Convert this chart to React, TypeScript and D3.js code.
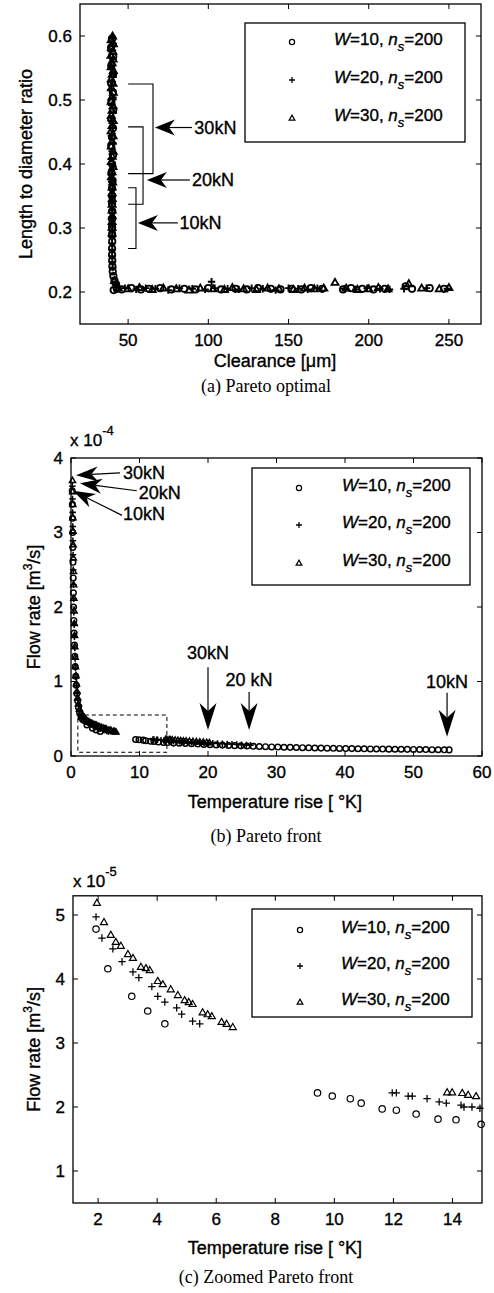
import React from 'react';
import * as d3 from 'd3';

type P = [number, number];

const SANS = "'Liberation Sans', Arial, Helvetica, sans-serif";
const SERIF = "'Liberation Serif', 'Times New Roman', serif";
const TXT_STROKE = 0.35;

// ---------- Panel (a): Pareto optimal (clearance [um], L/D) ----------
const aXTicks = [50, 100, 150, 200, 250];
const aYTicks = [0.2, 0.3, 0.4, 0.5, 0.6];
const aW10: P[] = [
  [40.1, 0.596], [39.4, 0.582], [40.7, 0.568], [39.6, 0.554], [40.6, 0.54], [39.4, 0.526], [40.5, 0.512], [39.6, 0.498],
  [40.7, 0.484], [39.5, 0.47], [40.5, 0.456], [40.0, 0.442], [39.5, 0.428], [40.6, 0.414], [40.0, 0.4], [39.6, 0.386],
  [40.3, 0.374], [40.0, 0.362], [40.0, 0.35], [40.0, 0.338], [40.1, 0.326], [40.0, 0.314], [40.0, 0.302], [40.0, 0.29],
  [40.1, 0.279], [40.0, 0.268], [40.0, 0.258], [40.1, 0.249], [40.2, 0.24], [40.4, 0.232], [40.8, 0.225], [41.5, 0.218],
  [42.5, 0.212], [41, 0.203], [43, 0.205], [46, 0.204], [52, 0.206], [58, 0.204], [63, 0.205], [70, 0.206], [77, 0.204],
  [85, 0.205], [92, 0.204], [100, 0.206], [108, 0.204], [117, 0.205], [124, 0.204], [131, 0.206], [139, 0.205],
  [145, 0.204], [152, 0.205], [158, 0.204], [164, 0.206], [171, 0.205], [184, 0.204], [189, 0.206], [196, 0.205],
  [203, 0.204], [210, 0.205], [223, 0.209], [227, 0.205], [238, 0.206], [247, 0.205],
];
const aW20: P[] = [
  [40.0, 0.598], [40.7, 0.588], [39.4, 0.576], [40.5, 0.564], [39.5, 0.552], [40.8, 0.54], [40.0, 0.528], [39.4, 0.516],
  [40.6, 0.504], [39.6, 0.492], [40.7, 0.48], [39.5, 0.468], [40.5, 0.456], [39.6, 0.444], [40.7, 0.432], [40.0, 0.42],
  [39.5, 0.408], [40.6, 0.396], [40.0, 0.384], [39.7, 0.372], [40.2, 0.361], [40.0, 0.35], [39.9, 0.339], [40.1, 0.328],
  [40.0, 0.317], [40.0, 0.306], [40.1, 0.296], [40.0, 0.286], [40.0, 0.276], [40.1, 0.266], [40.0, 0.256], [40.2, 0.247],
  [40.4, 0.238], [42, 0.212], [48, 0.206], [55, 0.204], [61, 0.206], [67, 0.205], [75, 0.203], [82, 0.206], [90, 0.205],
  [98, 0.204], [102, 0.216], [104, 0.206], [112, 0.205], [119, 0.204], [127, 0.206], [134, 0.205], [142, 0.203],
  [150, 0.206], [156, 0.205], [162, 0.204], [168, 0.206], [185, 0.205], [192, 0.204], [199, 0.206], [207, 0.205],
  [213, 0.204], [222, 0.205], [236, 0.206], [249, 0.205],
];
const aW30: P[] = [
  [40.3, 0.6], [39.4, 0.594], [40.8, 0.588], [39.6, 0.582], [40.5, 0.576], [39.3, 0.57], [40.7, 0.564], [40.0, 0.558],
  [39.4, 0.552], [40.8, 0.546], [40.1, 0.54], [39.5, 0.533], [40.6, 0.526], [39.6, 0.519], [40.8, 0.512], [40.0, 0.505],
  [39.4, 0.498], [40.6, 0.491], [40.0, 0.484], [39.5, 0.476], [40.7, 0.468], [40.0, 0.46], [39.4, 0.452], [40.6, 0.444],
  [40.0, 0.436], [39.5, 0.428], [40.7, 0.42], [40.1, 0.412], [39.5, 0.404], [40.6, 0.396], [40.0, 0.388], [39.6, 0.38],
  [40.4, 0.372], [40.0, 0.364], [40.0, 0.355], [40.1, 0.346], [40.0, 0.337], [40.0, 0.328], [40.1, 0.319], [40.0, 0.31],
  [40.0, 0.301], [40.0, 0.292], [41.5, 0.218], [43, 0.211], [44, 0.206], [50, 0.205], [57, 0.207], [65, 0.204],
  [72, 0.206], [80, 0.205], [88, 0.203], [95, 0.206], [103, 0.205], [110, 0.204], [115, 0.207], [122, 0.205],
  [130, 0.204], [137, 0.206], [144, 0.205], [153, 0.204], [160, 0.206], [166, 0.205], [172, 0.206], [179, 0.215],
  [186, 0.206], [193, 0.204], [200, 0.205], [206, 0.207], [212, 0.205], [225, 0.213], [233, 0.206], [244, 0.205],
  [250, 0.207],
];
// brackets: [load label, left clearance, right clearance, top ratio, bottom ratio]
const aBrackets: [string, number, number, number, number][] = [
  ['30kN', 50, 65.5, 0.525, 0.385],
  ['20kN', 50, 59.3, 0.458, 0.337],
  ['10kN', 50, 54.9, 0.363, 0.268],
];
// arrows: [label, tipX, tipY, tailX, textX]
const aArrows: [string, number, number, number, number][] = [
  ['30kN', 66.7, 0.457, 89.8, 91.3],
  ['20kN', 61.7, 0.375, 88.5, 89.8],
  ['10kN', 56.1, 0.308, 81.0, 82.0],
];

// ---------- Panel (c) data: zoomed Pareto front (T [K], Q [1e-5 m^3/s]) ----------
const cXTicks = [2, 4, 6, 8, 10, 12, 14];
const cYTicks = [1, 2, 3, 4, 5];
const cW10: P[] = [
  [1.93, 4.78], [2.33, 4.16], [3.14, 3.73], [3.68, 3.5], [4.26, 3.3], [9.43, 2.22], [9.93, 2.17], [10.54, 2.13],
  [10.91, 2.06], [11.62, 1.97], [12.1, 1.95], [12.77, 1.89], [13.51, 1.81], [14.12, 1.8], [14.97, 1.73],
];
const cW20: P[] = [
  [1.93, 4.97], [2.13, 4.64], [2.5, 4.47], [2.81, 4.27], [3.18, 4.11], [3.38, 4.02], [3.82, 3.88], [4.02, 3.73],
  [4.26, 3.64], [4.66, 3.55], [4.83, 3.45], [5.2, 3.34], [5.44, 3.3], [11.96, 2.22], [12.1, 2.22], [12.5, 2.17],
  [12.64, 2.17], [13.14, 2.13], [13.55, 2.08], [13.79, 2.06], [14.29, 2.03], [14.39, 2.0], [14.66, 2.0], [14.93, 1.98],
];
const cW30: P[] = [
  [1.96, 5.19], [2.2, 4.89], [2.43, 4.69], [2.6, 4.58], [2.77, 4.52], [3.01, 4.39], [3.18, 4.33], [3.45, 4.19],
  [3.62, 4.17], [3.75, 4.14], [4.02, 3.97], [4.19, 3.92], [4.46, 3.84], [4.7, 3.75], [4.93, 3.67], [5.07, 3.64],
  [5.2, 3.61], [5.54, 3.48], [5.71, 3.45], [5.85, 3.42], [6.18, 3.33], [6.35, 3.3], [6.56, 3.25], [13.82, 2.23],
  [13.99, 2.23], [14.33, 2.22], [14.53, 2.19], [14.8, 2.17],
];

// ---------- Panel (b) data: Pareto front (T [K], Q [1e-4 m^3/s]) ----------
const bXTicks = [0, 10, 20, 30, 40, 50, 60];
const bYTicks = [0, 1, 2, 3, 4];
const bSteepW10: P[] = [
  [0.18, 3.56], [0.2, 3.38], [0.22, 3.19], [0.24, 3.0], [0.26, 2.8], [0.29, 2.6], [0.32, 2.39], [0.35, 2.19],
  [0.38, 2.0], [0.42, 1.82], [0.46, 1.65], [0.51, 1.49], [0.56, 1.34], [0.62, 1.2], [0.69, 1.07], [0.77, 0.95],
  [0.86, 0.84], [0.97, 0.74], [1.1, 0.65], [1.26, 0.58], [1.46, 0.52], [1.7, 0.49],
];
const bSteepW20: P[] = [
  [0.2, 3.62], [0.22, 3.45], [0.24, 3.27], [0.26, 3.08], [0.28, 2.89], [0.3, 2.7], [0.33, 2.5], [0.36, 2.3],
  [0.39, 2.11], [0.42, 1.93], [0.46, 1.76], [0.5, 1.6], [0.55, 1.45], [0.6, 1.31], [0.66, 1.18], [0.73, 1.06],
  [0.81, 0.95], [0.9, 0.85], [1.01, 0.76], [1.14, 0.68], [1.3, 0.61], [1.5, 0.56], [1.72, 0.52],
];
const bSteepW30: P[] = [
  [0.22, 3.7], [0.24, 3.55], [0.26, 3.38], [0.28, 3.2], [0.3, 3.02], [0.32, 2.84], [0.34, 2.66], [0.36, 2.48],
  [0.39, 2.3], [0.42, 2.12], [0.45, 1.95], [0.48, 1.78], [0.52, 1.62], [0.56, 1.47], [0.61, 1.33], [0.66, 1.2],
  [0.72, 1.08], [0.79, 0.97], [0.87, 0.87], [0.97, 0.78], [1.09, 0.7], [1.23, 0.63], [1.4, 0.58], [1.62, 0.545],
  [1.8, 0.535],
];
const bTailW10: P[] = [
  [15.8, 0.171], [16.7, 0.168], [17.6, 0.164], [18.5, 0.16], [19.4, 0.156], [20.3, 0.152], [21.2, 0.149], [22.1, 0.146],
  [23.0, 0.142], [23.9, 0.139], [24.8, 0.136], [25.7, 0.133], [26.6, 0.13], [27.5, 0.127], [28.4, 0.125], [29.3, 0.122],
  [30.2, 0.12], [31.1, 0.118], [32.0, 0.116], [32.9, 0.114], [33.8, 0.112], [34.7, 0.11], [35.6, 0.108], [36.5, 0.106],
  [37.4, 0.105], [38.3, 0.103], [39.2, 0.102], [40.1, 0.1], [41.0, 0.099], [41.9, 0.097], [42.8, 0.096], [43.7, 0.095],
  [44.6, 0.094], [45.5, 0.093], [46.4, 0.092], [47.3, 0.091], [48.2, 0.09], [49.1, 0.089], [50.0, 0.088], [50.9, 0.087],
  [51.8, 0.086], [52.7, 0.085], [53.6, 0.084], [54.5, 0.083], [55.2, 0.082],
];
const bTailW20: P[] = [
  [15.4, 0.196], [15.9, 0.194], [16.5, 0.191], [17.0, 0.188], [17.6, 0.185], [18.2, 0.182], [18.8, 0.179], [19.4, 0.176],
  [20.0, 0.173], [20.7, 0.17], [21.4, 0.167], [22.1, 0.164], [22.8, 0.161], [23.5, 0.158], [24.2, 0.155], [24.9, 0.152],
  [25.6, 0.149], [26.2, 0.146],
];
const bTailW30: P[] = [
  [15.2, 0.215], [15.6, 0.212], [16.0, 0.209], [16.4, 0.206], [16.8, 0.203], [17.3, 0.2], [17.8, 0.197], [18.3, 0.194],
  [18.8, 0.191], [19.3, 0.188], [19.8, 0.185], [20.2, 0.182],
];
// arrows near the top: [label, tipT, tipQ, tailT, tailQ, textT, textQ]
const bTopArrows: [string, number, number, number, number, number, number][] = [
  ['30kN', 0.73, 3.77, 7.15, 3.8, 7.6, 3.8],
  ['20kN', 1.31, 3.66, 9.6, 3.56, 9.9, 3.54],
  ['10kN', 0.29, 3.56, 7.45, 3.23, 7.6, 3.25],
];
// vertical arrows: [label, T, fromQ, tipQ, textQ]
const bVArrows: [string, number, number, number, number][] = [
  ['30kN', 20, 1.19, 0.35, 1.38],
  ['20 kN', 26, 0.86, 0.35, 1.03],
  ['10kN', 54.9, 0.85, 0.26, 1.0],
];
const bZoomBox = { t0: 1, t1: 14, q0: 0.05, q1: 0.55 };

const legendLoads = [10, 20, 30];
const legendNs = 200;
const markerKinds = ['circle', 'plus', 'triangle'];

const scale10 = (pts: P[]): P[] => pts.map(([t, q]) => [t, q / 10] as P);
const bW10 = [...bSteepW10, ...scale10(cW10), ...bTailW10];
const bW20 = [...bSteepW20, ...scale10(cW20), ...bTailW20];
const bW30 = [...bSteepW30, ...scale10(cW30), ...bTailW30];

// ---------- scales ----------
const ax = d3.scaleLinear().domain([20, 270]).range([80, 481]);
const ay = d3.scaleLinear().domain([0.15, 0.65]).range([324, 4]);
const bx = d3.scaleLinear().domain([0, 60]).range([71, 482]);
const by = d3.scaleLinear().domain([0, 4]).range([756, 458]);
const cx = d3.scaleLinear().domain([1.15, 15]).range([73, 482]);
const cy = d3.scaleLinear().domain([0.5, 5.3]).range([1203, 895.8]);

function Marker({ kind, x, y, s, sw = 1.1 }: { kind: string; x: number; y: number; s: number; sw?: number }) {
  if (kind === 'circle') return <circle cx={x} cy={y} r={s} fill="none" stroke="#000" strokeWidth={sw} />;
  if (kind === 'plus')
    return (
      <path
        d={`M${x - s * 1.15},${y}h${s * 2.3}M${x},${y - s * 1.15}v${s * 2.3}`}
        stroke="#000"
        strokeWidth={sw * 1.05}
        fill="none"
      />
    );
  return (
    <path
      d={`M${x},${y - s * 1.1}L${x + s * 1.1},${y + s * 0.8}L${x - s * 1.1},${y + s * 0.8}Z`}
      stroke="#000"
      strokeWidth={sw}
      fill="none"
    />
  );
}

function Frame({ x, y, xTicks, yTicks, yFmt, labelGap = 16 }: any) {
  const [x0, x1] = x.range();
  const [y0, y1] = y.range();
  const tl = 5;
  return (
    <g fontFamily={SANS} fontSize={17} fill="#000">
      <rect x={x0} y={y1} width={x1 - x0} height={y0 - y1} fill="none" stroke="#000" strokeWidth={1.3} />
      {xTicks.map((t: number) => (
        <g key={'x' + t}>
          <line x1={x(t)} x2={x(t)} y1={y0} y2={y0 - tl} stroke="#000" />
          <line x1={x(t)} x2={x(t)} y1={y1} y2={y1 + tl} stroke="#000" />
          <text x={x(t)} y={y0 + labelGap} dy="0.35em" textAnchor="middle" stroke="#000" strokeWidth={TXT_STROKE}>
            {String(t)}
          </text>
        </g>
      ))}
      {yTicks.map((t: number) => (
        <g key={'y' + t}>
          <line x1={x0} x2={x0 + tl} y1={y(t)} y2={y(t)} stroke="#000" />
          <line x1={x1} x2={x1 - tl} y1={y(t)} y2={y(t)} stroke="#000" />
          <text x={x0 - 8} y={y(t)} dy="0.35em" textAnchor="end" stroke="#000" strokeWidth={TXT_STROKE}>
            {yFmt ? yFmt(t) : String(t)}
          </text>
        </g>
      ))}
    </g>
  );
}

function Series({ data, x, y, kind, s, sw }: any) {
  return (
    <g>
      {data.map((d: P, i: number) => (
        <Marker key={i} kind={kind} x={x(d[0])} y={y(d[1])} s={s} sw={sw} />
      ))}
    </g>
  );
}

function Legend({ left, top, w, h, rows, markerX, textX }: any) {
  return (
    <g fontFamily={SANS} fontSize={17}>
      <rect x={left} y={top} width={w} height={h} fill="#fff" stroke="#000" strokeWidth={1.3} />
      {legendLoads.map((load, i) => (
        <g key={load}>
          <Marker kind={markerKinds[i]} x={left + markerX} y={rows[i]} s={2.6} sw={1.2} />
          <text x={left + textX} y={rows[i] + 3} stroke="#000" strokeWidth={TXT_STROKE}>
            <tspan fontStyle="italic">W</tspan>
            <tspan>{`=${load}, `}</tspan>
            <tspan fontStyle="italic">n</tspan>
            <tspan fontStyle="italic" fontSize={13} dy={6}>
              s
            </tspan>
            <tspan dy={-6}>{`=${legendNs}`}</tspan>
          </text>
        </g>
      ))}
    </g>
  );
}

function Arrow({ x1, y1, x2, y2, L, W }: any) {
  const dx = x2 - x1;
  const dy = y2 - y1;
  const len = Math.hypot(dx, dy);
  const ux = dx / len;
  const uy = dy / len;
  const px = -uy;
  const py = ux;
  const bX = x2 - ux * L;
  const bY = y2 - uy * L;
  const nX = x2 - ux * L * 0.7;
  const nY = y2 - uy * L * 0.7;
  return (
    <g>
      <line x1={x1} y1={y1} x2={nX} y2={nY} stroke="#000" strokeWidth={1.2} />
      <path d={`M${x2},${y2}L${bX + px * W},${bY + py * W}L${nX},${nY}L${bX - px * W},${bY - py * W}Z`} fill="#000" />
    </g>
  );
}

function FlowLabel({ x, yc }: { x: number; yc: number }) {
  return (
    <text
      transform={`translate(${x},${yc}) rotate(-90)`}
      textAnchor="middle"
      fontFamily={SANS}
      fontSize={18}
      stroke="#000"
      strokeWidth={TXT_STROKE}
    >
      <tspan>Flow rate [m</tspan>
      <tspan fontSize={12} dy={-8}>
        3
      </tspan>
      <tspan dy={8}>/s]</tspan>
    </text>
  );
}

function TempLabel({ x, y }: { x: number; y: number }) {
  return (
    <text
      x={x}
      y={y}
      dy="0.35em"
      textAnchor="middle"
      fontFamily={SANS}
      fontSize={18}
      stroke="#000"
      strokeWidth={TXT_STROKE}
    >
      Temperature rise [ °K]
    </text>
  );
}

function Multiplier({ x, y, exp }: { x: number; y: number; exp: string }) {
  return (
    <text x={x} y={y} fontFamily={SANS} fontSize={17} stroke="#000" strokeWidth={TXT_STROKE}>
      <tspan>x 10</tspan>
      <tspan fontSize={13} dy={-11}>
        {exp}
      </tspan>
    </text>
  );
}

export default function App() {
  const f1 = d3.format('.1f');
  const annStyle = { fontFamily: SANS, fontSize: 18, stroke: '#000', strokeWidth: TXT_STROKE };
  return (
    <svg
      width={494}
      height={1293}
      viewBox="0 0 494 1293"
      style={{ position: 'absolute', left: 0, top: 0, background: '#fff' }}
    >
      <rect x={0} y={0} width={494} height={1293} fill="#fff" />

      {/* ---------- (a) ---------- */}
      <Frame x={ax} y={ay} xTicks={aXTicks} yTicks={aYTicks} yFmt={f1} />
      <Series data={aW10} x={ax} y={ay} kind="circle" s={3.2} sw={1.8} />
      <Series data={aW20} x={ax} y={ay} kind="plus" s={3.2} sw={1.8} />
      <Series data={aW30} x={ax} y={ay} kind="triangle" s={3.2} sw={1.8} />
      {aBrackets.map(([lab, x0, x1, t, b]) => (
        <path
          key={lab}
          d={`M${ax(x0)},${ay(t)}H${ax(x1)}V${ay(b)}H${ax(x0)}`}
          fill="none"
          stroke="#000"
          strokeWidth={1.1}
        />
      ))}
      {aArrows.map(([lab, tx, ty, tail, textX]) => (
        <g key={lab}>
          <Arrow x1={ax(tail)} y1={ay(ty)} x2={ax(tx)} y2={ay(ty)} L={20} W={8} />
          <text x={ax(textX)} y={ay(ty)} dy="0.35em" {...annStyle}>
            {lab}
          </text>
        </g>
      ))}
      <Legend left={245} top={23} w={220} h={119} rows={[42, 80, 118]} markerX={47} textX={89} />
      <text
        transform={`translate(32,${(ay.range()[0] + ay.range()[1]) / 2}) rotate(-90)`}
        textAnchor="middle"
        {...annStyle}
      >
        Length to diameter ratio
      </text>
      <text x={275} y={361} dy="0.35em" textAnchor="middle" {...annStyle}>
        Clearance [μm]
      </text>
      <text x={266} y={386} dy="0.35em" textAnchor="middle" fontFamily={SERIF} fontSize={18}>
        (a) Pareto optimal
      </text>

      {/* ---------- (b) ---------- */}
      <Multiplier x={70} y={446} exp="-4" />
      <Frame x={bx} y={by} xTicks={bXTicks} yTicks={bYTicks} />
      <rect
        x={bx(bZoomBox.t0)}
        y={by(bZoomBox.q1)}
        width={bx(bZoomBox.t1) - bx(bZoomBox.t0)}
        height={by(bZoomBox.q0) - by(bZoomBox.q1)}
        fill="none"
        stroke="#000"
        strokeWidth={1}
        strokeDasharray="4,3"
      />
      <Series data={bW10} x={bx} y={by} kind="circle" s={2.8} sw={1.45} />
      <Series data={bW20} x={bx} y={by} kind="plus" s={2.8} sw={1.45} />
      <Series data={bW30} x={bx} y={by} kind="triangle" s={2.8} sw={1.45} />
      {bTopArrows.map(([lab, tt, tq, lt, lq, xt, xq]) => (
        <g key={lab}>
          <Arrow x1={bx(lt)} y1={by(lq)} x2={bx(tt)} y2={by(tq)} L={22} W={7.5} />
          <text x={bx(xt)} y={by(xq)} dy="0.35em" {...annStyle}>
            {lab}
          </text>
        </g>
      ))}
      {bVArrows.map(([lab, t, q0, q1, qt]) => (
        <g key={lab}>
          <Arrow x1={bx(t)} y1={by(q0)} x2={bx(t)} y2={by(q1)} L={27} W={8.5} />
          <text x={bx(t)} y={by(qt)} dy="0.35em" textAnchor="middle" {...annStyle}>
            {lab}
          </text>
        </g>
      ))}
      <Legend left={252} top={468} w={218} h={117} rows={[488, 525, 563]} markerX={47} textX={90} />
      <FlowLabel x={40} yc={(by.range()[0] + by.range()[1]) / 2} />
      <TempLabel x={275} y={802} />
      <text x={266} y={836} dy="0.35em" textAnchor="middle" fontFamily={SERIF} fontSize={18}>
        (b) Pareto front
      </text>

      {/* ---------- (c) ---------- */}
      <Multiplier x={73} y={887} exp="-5" />
      <Frame x={cx} y={cy} xTicks={cXTicks} yTicks={cYTicks} />
      <Series data={cW10} x={cx} y={cy} kind="circle" s={3.2} sw={1.2} />
      <Series data={cW20} x={cx} y={cy} kind="plus" s={3.2} sw={1.2} />
      <Series data={cW30} x={cx} y={cy} kind="triangle" s={3.2} sw={1.2} />
      <Legend left={252} top={909} w={220} h={108} rows={[930, 966, 1002]} markerX={48} textX={89} />
      <FlowLabel x={40} yc={(cy.range()[0] + cy.range()[1]) / 2} />
      <TempLabel x={275} y={1248} />
      <text x={266} y={1277} dy="0.35em" textAnchor="middle" fontFamily={SERIF} fontSize={18}>
        (c) Zoomed Pareto front
      </text>
    </svg>
  );
}
